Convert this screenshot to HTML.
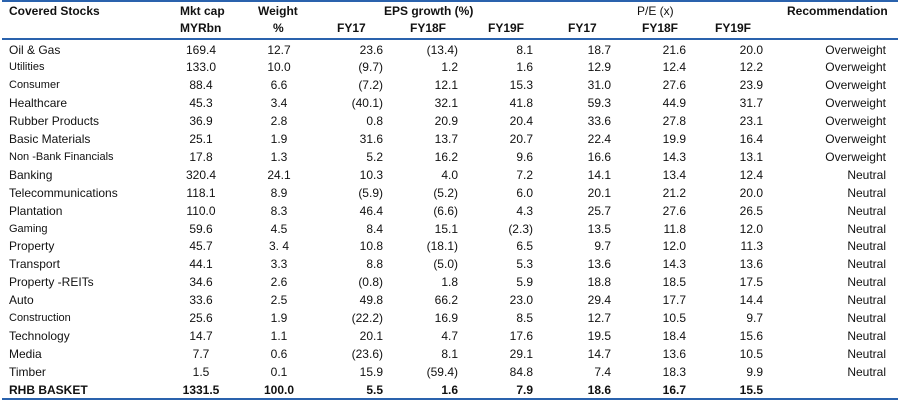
<!DOCTYPE html>
<html><head><meta charset="utf-8"><style>
body{margin:0;background:#fff;width:900px;height:401px;overflow:hidden;font-family:"Liberation Sans",sans-serif;color:#111;font-size:12px}
.wrap{position:relative;width:900px;height:401px}
.line{position:absolute;left:2px;width:896px;background:#2a62ad}
.h{position:absolute;font-weight:bold;font-size:12px;white-space:nowrap}
table{position:absolute;left:0;top:41.5px;border-collapse:collapse;table-layout:fixed;width:900px}
td{height:17.9px;padding:0;text-align:right;white-space:nowrap;line-height:17.9px}
td:first-child{text-align:left;padding-left:9px}
td.c{text-align:center}
.s td:first-child{font-size:11px}
tr.b td{font-weight:bold}
</style></head><body><div class="wrap">
<div class="line" style="top:0;height:2px"></div>
<div class="line" style="top:38px;height:2px"></div>
<div class="line" style="top:398px;height:2px"></div>
<div class="h" style="left:9px;top:4px">Covered Stocks</div>
<div class="h" style="left:180px;top:4px">Mkt cap</div>
<div class="h" style="left:180px;top:21px">MYRbn</div>
<div class="h" style="left:258px;top:4px">Weight</div>
<div class="h" style="left:273px;top:21px">%</div>
<div class="h" style="left:384px;top:4px">EPS growth (%)</div>
<div class="h" style="left:337px;top:21px">FY17</div>
<div class="h" style="left:410px;top:21px">FY18F</div>
<div class="h" style="left:488px;top:21px">FY19F</div>
<div class="h" style="left:637px;top:4px;font-weight:normal">P/E (x)</div>
<div class="h" style="left:568px;top:21px">FY17</div>
<div class="h" style="left:642px;top:21px">FY18F</div>
<div class="h" style="left:715px;top:21px">FY19F</div>
<div class="h" style="left:787px;top:4px">Recommendation</div>
<table>
<colgroup><col style="width:170px"><col style="width:62px"><col style="width:94px"><col style="width:57px"><col style="width:75px"><col style="width:75px"><col style="width:78px"><col style="width:75px"><col style="width:77px"><col style="width:123px"><col style="width:14px"></colgroup>
<tr><td>Oil &amp; Gas</td><td class="c">169.4</td><td class="c">12.7</td><td>23.6</td><td>(13.4)</td><td>8.1</td><td>18.7</td><td>21.6</td><td>20.0</td><td>Overweight</td><td></td></tr>
<tr class="s"><td>Utilities</td><td class="c">133.0</td><td class="c">10.0</td><td>(9.7)</td><td>1.2</td><td>1.6</td><td>12.9</td><td>12.4</td><td>12.2</td><td>Overweight</td><td></td></tr>
<tr class="s"><td>Consumer</td><td class="c">88.4</td><td class="c">6.6</td><td>(7.2)</td><td>12.1</td><td>15.3</td><td>31.0</td><td>27.6</td><td>23.9</td><td>Overweight</td><td></td></tr>
<tr><td>Healthcare</td><td class="c">45.3</td><td class="c">3.4</td><td>(40.1)</td><td>32.1</td><td>41.8</td><td>59.3</td><td>44.9</td><td>31.7</td><td>Overweight</td><td></td></tr>
<tr><td>Rubber Products</td><td class="c">36.9</td><td class="c">2.8</td><td>0.8</td><td>20.9</td><td>20.4</td><td>33.6</td><td>27.8</td><td>23.1</td><td>Overweight</td><td></td></tr>
<tr><td>Basic Materials</td><td class="c">25.1</td><td class="c">1.9</td><td>31.6</td><td>13.7</td><td>20.7</td><td>22.4</td><td>19.9</td><td>16.4</td><td>Overweight</td><td></td></tr>
<tr class="s"><td>Non -Bank Financials</td><td class="c">17.8</td><td class="c">1.3</td><td>5.2</td><td>16.2</td><td>9.6</td><td>16.6</td><td>14.3</td><td>13.1</td><td>Overweight</td><td></td></tr>
<tr><td>Banking</td><td class="c">320.4</td><td class="c">24.1</td><td>10.3</td><td>4.0</td><td>7.2</td><td>14.1</td><td>13.4</td><td>12.4</td><td>Neutral</td><td></td></tr>
<tr><td>Telecommunications</td><td class="c">118.1</td><td class="c">8.9</td><td>(5.9)</td><td>(5.2)</td><td>6.0</td><td>20.1</td><td>21.2</td><td>20.0</td><td>Neutral</td><td></td></tr>
<tr><td>Plantation</td><td class="c">110.0</td><td class="c">8.3</td><td>46.4</td><td>(6.6)</td><td>4.3</td><td>25.7</td><td>27.6</td><td>26.5</td><td>Neutral</td><td></td></tr>
<tr class="s"><td>Gaming</td><td class="c">59.6</td><td class="c">4.5</td><td>8.4</td><td>15.1</td><td>(2.3)</td><td>13.5</td><td>11.8</td><td>12.0</td><td>Neutral</td><td></td></tr>
<tr><td>Property</td><td class="c">45.7</td><td class="c">3. 4</td><td>10.8</td><td>(18.1)</td><td>6.5</td><td>9.7</td><td>12.0</td><td>11.3</td><td>Neutral</td><td></td></tr>
<tr><td>Transport</td><td class="c">44.1</td><td class="c">3.3</td><td>8.8</td><td>(5.0)</td><td>5.3</td><td>13.6</td><td>14.3</td><td>13.6</td><td>Neutral</td><td></td></tr>
<tr><td>Property -REITs</td><td class="c">34.6</td><td class="c">2.6</td><td>(0.8)</td><td>1.8</td><td>5.9</td><td>18.8</td><td>18.5</td><td>17.5</td><td>Neutral</td><td></td></tr>
<tr><td>Auto</td><td class="c">33.6</td><td class="c">2.5</td><td>49.8</td><td>66.2</td><td>23.0</td><td>29.4</td><td>17.7</td><td>14.4</td><td>Neutral</td><td></td></tr>
<tr class="s"><td>Construction</td><td class="c">25.6</td><td class="c">1.9</td><td>(22.2)</td><td>16.9</td><td>8.5</td><td>12.7</td><td>10.5</td><td>9.7</td><td>Neutral</td><td></td></tr>
<tr><td>Technology</td><td class="c">14.7</td><td class="c">1.1</td><td>20.1</td><td>4.7</td><td>17.6</td><td>19.5</td><td>18.4</td><td>15.6</td><td>Neutral</td><td></td></tr>
<tr><td>Media</td><td class="c">7.7</td><td class="c">0.6</td><td>(23.6)</td><td>8.1</td><td>29.1</td><td>14.7</td><td>13.6</td><td>10.5</td><td>Neutral</td><td></td></tr>
<tr><td>Timber</td><td class="c">1.5</td><td class="c">0.1</td><td>15.9</td><td>(59.4)</td><td>84.8</td><td>7.4</td><td>18.3</td><td>9.9</td><td>Neutral</td><td></td></tr>
<tr class="b"><td>RHB BASKET</td><td class="c">1331.5</td><td class="c">100.0</td><td>5.5</td><td>1.6</td><td>7.9</td><td>18.6</td><td>16.7</td><td>15.5</td><td></td><td></td></tr>
</table>
</div></body></html>
